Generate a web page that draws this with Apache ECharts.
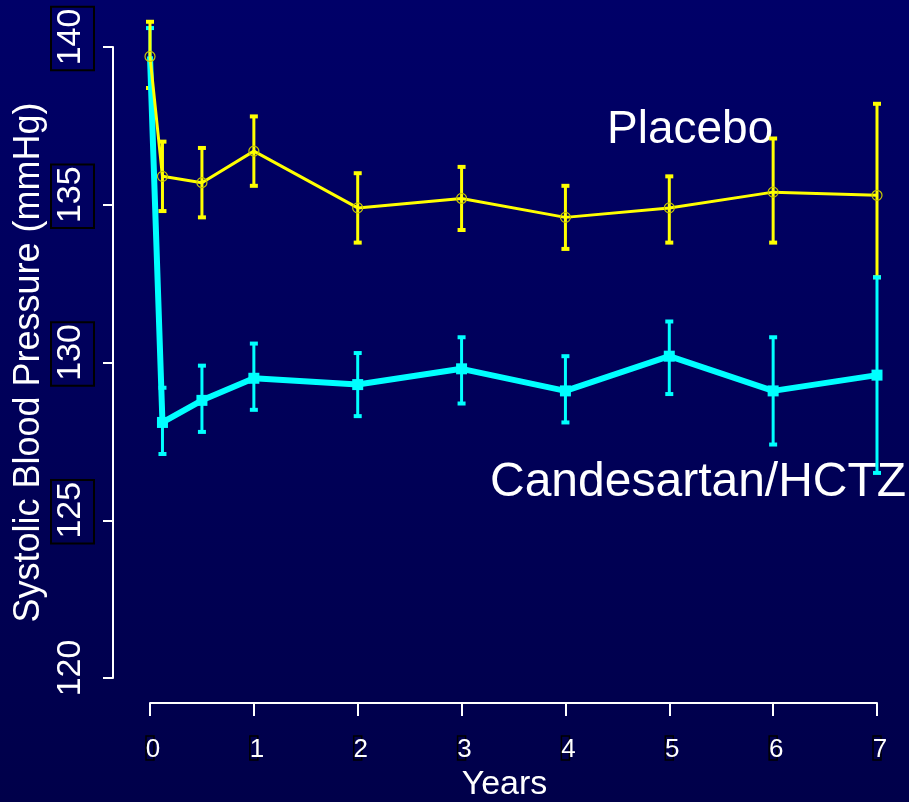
<!DOCTYPE html>
<html>
<head>
<meta charset="utf-8">
<script src="https://cdn.jsdelivr.net/npm/echarts@6/dist/echarts.min.js"></script>
<style>
  html, body { margin: 0; padding: 0; background: #00005a; }
  #chart { width: 909px; height: 802px; }
</style>
</head>
<body>
<div id="chart"></div>
<script>
// Follow-up time points (years)
const years = [0, 0.12, 0.5, 1, 2, 3, 4, 5, 6, 7];

// Placebo: mean systolic pressure and error bar limits (mmHg)
const placeboMean = [139.7, 135.9, 135.7, 136.7, 134.9, 135.2, 134.6, 134.9, 135.4, 135.3];
const placeboLow  = [138.7, 134.8, 134.6, 135.6, 133.8, 134.2, 133.6, 133.8, 133.8, 132.7];
const placeboHigh = [140.8, 137.0, 136.8, 137.8, 136.0, 136.2, 135.6, 135.9, 137.1, 138.2];

// Candesartan/HCTZ: mean systolic pressure and error bar limits (mmHg)
const candMean = [139.7, 128.1, 128.8, 129.5, 129.3, 129.8, 129.1, 130.2, 129.1, 129.6];
const candLow  = [138.7, 127.1, 127.8, 128.5, 128.3, 128.7, 128.1, 129.0, 127.4, 126.5];
const candHigh = [140.6, 129.2, 129.9, 130.6, 130.3, 130.8, 130.2, 131.3, 130.8, 132.7];

// Axis ticks
const yTicks = [120, 125, 130, 135, 140];
const xTicks = [0, 1, 2, 3, 4, 5, 6, 7];

const YELLOW = '#ffff00';
const CYAN = '#00ffff';
const FONT = '"Liberation Sans", Arial, Helvetica, sans-serif';

// Error bar rows: [x, low, high, group]; group 0 = placebo, 1 = candesartan.
// Baseline candesartan bar sits underneath the placebo bars, later ones on top.
const errRows = [];
errRows.push([years[0], candLow[0], candHigh[0], 1]);
years.forEach((x, i) => errRows.push([x, placeboLow[i], placeboHigh[i], 0]));
years.forEach((x, i) => { if (i > 0) errRows.push([x, candLow[i], candHigh[i], 1]); });

function renderErrorBar(params, api) {
  const x = api.value(0);
  const top = api.coord([x, api.value(2)]);
  const bot = api.coord([x, api.value(1)]);
  const color = api.value(3) === 0 ? YELLOW : CYAN;
  const hw = 4;
  return {
    type: 'group',
    children: [
      { type: 'line', shape: { x1: top[0], y1: top[1], x2: bot[0], y2: bot[1] },
        style: { stroke: color, lineWidth: 3 } },
      { type: 'line', shape: { x1: top[0] - hw, y1: top[1], x2: top[0] + hw, y2: top[1] },
        style: { stroke: color, lineWidth: 4 } },
      { type: 'line', shape: { x1: bot[0] - hw, y1: bot[1], x2: bot[0] + hw, y2: bot[1] },
        style: { stroke: color, lineWidth: 4 } }
    ]
  };
}

// Shared baseline point is marked by the placebo circle only
const candPoints = years.map((x, i) => (i === 0
  ? { value: [x, candMean[i]], symbol: 'none' }
  : [x, candMean[i]]));

const chart = echarts.init(document.getElementById('chart'), null, { renderer: 'canvas' });

chart.setOption({
  animation: false,
  backgroundColor: new echarts.graphic.LinearGradient(0, 0, 0, 1, [
    { offset: 0, color: '#000068' },
    { offset: 1, color: '#00004a' }
  ]),
  textStyle: { fontFamily: FONT },
  grid: { left: 150, right: 32, top: 47, bottom: 124, containLabel: false, outerBoundsMode: 'none' },
  xAxis: [
    {
      // thin dark frames behind the year labels
      type: 'value', min: 0, max: 7, interval: 1, position: 'bottom', offset: 25, z: 0,
      splitLine: { show: false },
      axisLine: { show: false, onZero: false },
      axisTick: { show: false },
      axisLabel: {
        margin: 33,
        formatter: () => '{b|}',
        rich: { b: { width: 8, height: 24, borderColor: '#000000', borderWidth: 1.5 } }
      }
    },
    {
      type: 'value', min: 0, max: 7, interval: 1, position: 'bottom', offset: 25, z: 2,
      splitLine: { show: false },
      axisLine: { show: true, onZero: false, lineStyle: { color: '#ffffff', width: 2 } },
      axisTick: { show: true, length: 13, lineStyle: { color: '#ffffff', width: 2 } },
      axisLabel: {
        color: '#ffffff', fontSize: 26, fontFamily: FONT, margin: 34,
        padding: [0, 0, 0, 6],
        customValues: xTicks,
        formatter: v => String(v)
      },
      name: 'Years', nameLocation: 'middle', nameGap: 65, nameMoveOverlap: false,
      nameTextStyle: { color: '#ffffff', fontSize: 34, fontFamily: FONT, padding: [0, 18, 0, 0] }
    }
  ],
  yAxis: {
    type: 'value', min: 120, max: 140, interval: 5, offset: 37,
    splitLine: { show: false },
    axisLine: { show: true, onZero: false, lineStyle: { color: '#ffffff', width: 2 } },
    axisTick: { show: true, length: 10, lineStyle: { color: '#ffffff', width: 2 } },
    axisLabel: {
      rotate: 90, margin: 19, padding: [0, 0, 0, 17],
      customValues: yTicks,
      formatter: v => (v === 120 ? '{n|' + v + '}' : '{b|' + v + '}'),
      rich: {
        n: { color: '#ffffff', fontSize: 34, fontFamily: FONT, padding: [3, 2, 6, 5] },
        b: { color: '#ffffff', fontSize: 34, fontFamily: FONT, padding: [3, 2, 6, 5],
             borderColor: '#000000', borderWidth: 2 }
      }
    },
    name: 'Systolic Blood Pressure (mmHg)', nameLocation: 'middle', nameRotate: 90,
    nameGap: 66, nameMoveOverlap: false,
    nameTextStyle: { color: '#ffffff', fontSize: 36, fontFamily: FONT }
  },
  graphic: [
    { type: 'text', left: 607, top: 107,
      style: { text: 'Placebo', fill: '#ffffff', font: '46px ' + FONT } },
    { type: 'text', left: 490, top: 459,
      style: { text: 'Candesartan/HCTZ', fill: '#ffffff', font: '48px ' + FONT } }
  ],
  series: [
    {
      type: 'custom', name: 'error', xAxisIndex: 1, z: 2,
      renderItem: renderErrorBar,
      encode: { x: 0, y: [1, 2] },
      data: errRows
    },
    {
      type: 'line', name: 'Candesartan/HCTZ', xAxisIndex: 1, z: 3,
      data: candPoints,
      symbol: 'rect', symbolSize: 11, showSymbol: true,
      lineStyle: { color: CYAN, width: 6 },
      itemStyle: { color: CYAN }
    },
    {
      type: 'line', name: 'Placebo', xAxisIndex: 1, z: 4,
      data: years.map((x, i) => [x, placeboMean[i]]),
      symbol: 'circle', symbolSize: 10, showSymbol: true,
      lineStyle: { color: YELLOW, width: 3 },
      itemStyle: { color: 'rgba(0,0,0,0)', borderColor: '#c8c800', borderWidth: 1.2 }
    }
  ]
});
</script>
</body>
</html>
